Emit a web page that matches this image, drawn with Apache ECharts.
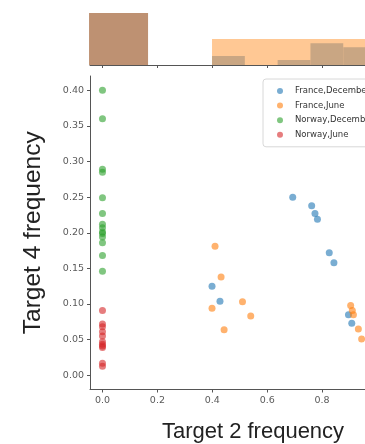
<!DOCTYPE html>
<html>
<head>
<meta charset="utf-8">
<script src="https://cdn.jsdelivr.net/npm/echarts@6/dist/echarts.min.js"></script>
<style>
html, body { margin: 0; padding: 0; background: #fff; }
#main { width: 365px; height: 444px; }
</style>
</head>
<body>
<div id="main"></div>
<script>
// 图例名称
var seriesNames = ['France,December', 'France,June', 'Norway,December', 'Norway,June'];
var seriesColors = ['#1f77b4', '#ff7f0e', '#2ca02c', '#d62728'];

// 散点 [Target 2, Target 4]
var franceDec = [
    [0.399, 0.125], [0.428, 0.104], [0.693, 0.250], [0.762, 0.238], [0.774, 0.227],
    [0.783, 0.219], [0.826, 0.172], [0.843, 0.158], [0.896, 0.085], [0.908, 0.073]
];
var franceJun = [
    [0.410, 0.181], [0.432, 0.138], [0.510, 0.103], [0.399, 0.094], [0.540, 0.083],
    [0.443, 0.064], [0.904, 0.098], [0.910, 0.091], [0.914, 0.085], [0.932, 0.065],
    [0.944, 0.051]
];
var norwayDec = [
    [0, 0.400], [0, 0.360], [0, 0.289], [0, 0.285], [0, 0.249], [0, 0.227], [0, 0.212],
    [0, 0.207], [0, 0.201], [0, 0.199], [0, 0.194], [0, 0.186], [0, 0.168], [0, 0.146]
];
var norwayJun = [
    [0, 0.091], [0, 0.072], [0, 0.068], [0, 0.061], [0, 0.055], [0, 0.047], [0, 0.0435],
    [0, 0.041], [0, 0.039], [0, 0.017], [0, 0.0126]
];

// 顶部直方图 [起点, 终点, 高度]
var histNorway = [[-0.049, 0.166, 5.2]];
var histFranceJun = [[0.399, 1.2, 2.6]];
var histFranceDec = [
    [0.399, 0.5185, 0.9], [0.638, 0.7575, 0.5], [0.7575, 0.877, 2.17], [0.877, 1.2, 1.77]
];

// 刻度
var xTicks = [0, 0.2, 0.4, 0.6, 0.8, 1.0];
var yTicks = [0, 0.05, 0.1, 0.15, 0.2, 0.25, 0.3, 0.35, 0.4];

var labelFont = 'DejaVu Sans';

function histItem(color) {
    return function (params, api) {
        var p0 = api.coord([api.value(0), 0]);
        var p1 = api.coord([api.value(1), api.value(2)]);
        return {
            type: 'rect',
            shape: { x: p0[0], y: p1[1], width: p1[0] - p0[0], height: p0[1] - p1[1] },
            style: { fill: color }
        };
    };
}

function scatterSeries(name, data, color) {
    return {
        name: name,
        type: 'scatter',
        xAxisIndex: 1,
        yAxisIndex: 1,
        data: data,
        symbolSize: 7,
        itemStyle: { color: color, opacity: 0.6 }
    };
}

var chart = echarts.init(document.getElementById('main'));
var option = {
    animation: false,
    grid: [
        { left: 90, top: 10, width: 326, height: 55, outerBoundsMode: 'none' },
        { left: 90, top: 76, width: 326, height: 313.5, outerBoundsMode: 'none' }
    ],
    legend: {
        data: seriesNames,
        orient: 'vertical',
        left: 263,
        top: 79,
        padding: [6, 60, 6, 14],
        itemWidth: 20,
        itemHeight: 6,
        itemGap: 2.6,
        icon: 'circle',
        borderColor: '#d8d8d8',
        borderWidth: 1,
        borderRadius: 3,
        backgroundColor: '#fff',
        itemStyle: { opacity: 0.6 },
        textStyle: { fontFamily: labelFont, fontSize: 8.5, color: '#333', lineHeight: 12 }
    },
    xAxis: [
        {
            gridIndex: 0, type: 'value', min: -0.0455, max: 1.142,
            axisLine: { show: true, lineStyle: { color: '#555', width: 1 } },
            axisTick: { show: true, length: 3, customValues: xTicks, lineStyle: { color: '#555' } },
            axisLabel: { show: false },
            splitLine: { show: false }
        },
        {
            gridIndex: 1, type: 'value', min: -0.0455, max: 1.142,
            name: 'Target 2 frequency',
            nameLocation: 'middle',
            nameGap: 31,
            nameTextStyle: { fontFamily: 'Liberation Sans', fontSize: 22, color: '#222' },
            axisLine: { show: true, onZero: false, lineStyle: { color: '#555', width: 1 } },
            axisTick: { show: true, length: 3, customValues: xTicks, lineStyle: { color: '#555' } },
            axisLabel: {
                customValues: xTicks, margin: 6,
                fontFamily: labelFont, fontSize: 9.5, color: '#5a5a5a',
                formatter: function (v) { return v.toFixed(1); }
            },
            splitLine: { show: false }
        }
    ],
    yAxis: [
        {
            gridIndex: 0, type: 'value', min: 0, max: 5.5,
            show: false
        },
        {
            gridIndex: 1, type: 'value', min: -0.02, max: 0.42,
            name: 'Target 4 frequency',
            nameLocation: 'middle',
            nameGap: 44,
            nameTextStyle: { fontFamily: 'Liberation Sans', fontSize: 24.5, color: '#222' },
            axisLine: { show: true, onZero: false, lineStyle: { color: '#555', width: 1 } },
            axisTick: { show: true, length: 3, customValues: yTicks, lineStyle: { color: '#555' } },
            axisLabel: {
                customValues: yTicks, margin: 6,
                fontFamily: labelFont, fontSize: 9.5, color: '#5a5a5a',
                formatter: function (v) { return v.toFixed(2); }
            },
            splitLine: { show: false }
        }
    ],
    series: [
        { type: 'custom', xAxisIndex: 0, yAxisIndex: 0, data: histNorway, renderItem: histItem('#be9172'), encode: { x: [0, 1], y: 2 } },
        { type: 'custom', xAxisIndex: 0, yAxisIndex: 0, data: histFranceJun, renderItem: histItem('#ffc894'), encode: { x: [0, 1], y: 2 } },
        { type: 'custom', xAxisIndex: 0, yAxisIndex: 0, data: histFranceDec, renderItem: histItem('#c9a683'), encode: { x: [0, 1], y: 2 } },
        scatterSeries(seriesNames[0], franceDec, seriesColors[0]),
        scatterSeries(seriesNames[1], franceJun, seriesColors[1]),
        scatterSeries(seriesNames[2], norwayDec, seriesColors[2]),
        scatterSeries(seriesNames[3], norwayJun, seriesColors[3])
    ]
};
option && chart.setOption(option);
</script>
</body>
</html>
